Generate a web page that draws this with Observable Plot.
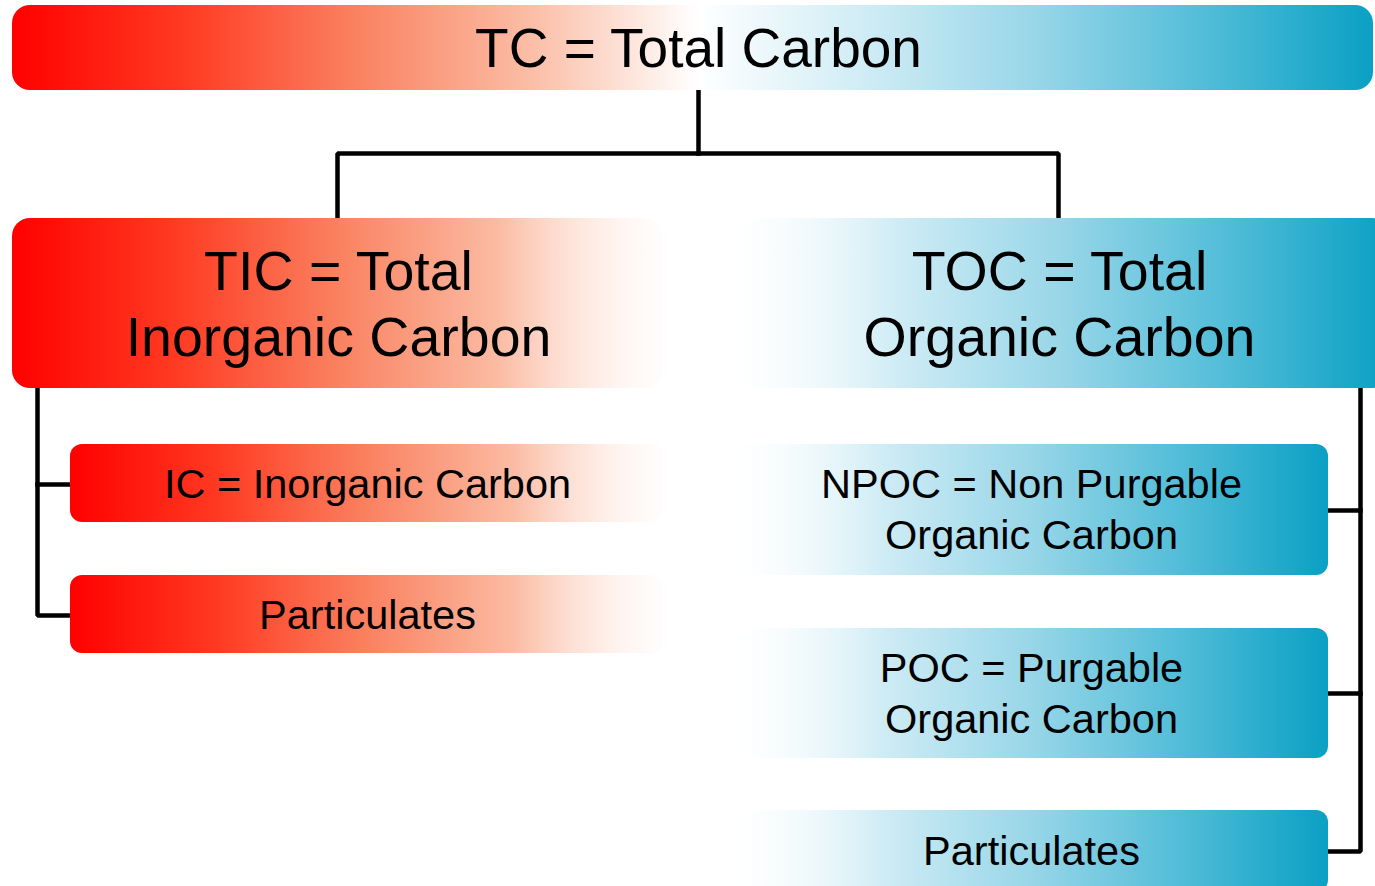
<!DOCTYPE html>
<html>
<head>
<meta charset="utf-8">
<script src="https://cdn.jsdelivr.net/npm/d3@7"></script>
<script src="https://cdn.jsdelivr.net/npm/@observablehq/plot@0.6"></script>
<style>
  html, body { margin: 0; padding: 0; background: #fff; overflow: hidden; }
  #chart svg { display: block; }
</style>
</head>
<body>
<div id="chart"></div>
<script>
// ---- Data: the carbon hierarchy ----
const nodeLabels = [
  "TC = Total Carbon",
  "TIC = Total\nInorganic Carbon",
  "TOC = Total\nOrganic Carbon",
  "IC = Inorganic Carbon",
  "Particulates",
  "NPOC = Non Purgable\nOrganic Carbon",
  "POC = Purgable\nOrganic Carbon",
  "Particulates"
];
const nodeParent = [null, 0, 0, 1, 1, 2, 2, 2];
const nodeFamily = ["total", "inorganic", "organic", "inorganic", "inorganic", "organic", "organic", "organic"];
const nodeLevel = [0, 1, 1, 2, 2, 2, 2, 2];

// ---- Layout (pixel space of the diagram) ----
const W = 1375, H = 886;
const boxX1 = [12, 12, 733, 70, 70, 735, 735, 735];
const boxX2 = [1373, 663, 1390, 663, 663, 1328, 1328, 1328];
const boxY1 = [5, 218, 218, 444, 575, 444, 628, 810];
const boxY2 = [90, 388, 388, 522, 653, 575, 758, 892];
const textX = [698, 338, 1059, 367, 367, 1031, 1031, 1031];
const textY = [45, 301, 301, 481, 612, 507, 691, 848];

const nodes = nodeLabels.map((label, i) => ({
  label, parent: nodeParent[i], family: nodeFamily[i], level: nodeLevel[i],
  x1: boxX1[i], x2: boxX2[i], y1: boxY1[i], y2: boxY2[i],
  tx: textX[i], ty: textY[i]
}));

// connectors (polylines)
const connectors = [
  [[698, 88], [698, 153]],
  [[337, 220], [337, 153], [1058, 153], [1058, 220]],
  [[37, 386], [37, 615], [72, 615]],
  [[37, 484], [72, 484]],
  [[1360, 386], [1360, 851], [1325, 851]],
  [[1325, 510], [1360, 510]],
  [[1325, 693], [1360, 693]]
];
const connectorData = connectors.flatMap((pts, k) => pts.map(([x, y]) => ({x, y, k})));

const fillFor = {
  total: "url(#gradTotal)",
  inorganic: "url(#gradRed)",
  organic: "url(#gradTeal)"
};

const redStops = [[0, "#ff0000"], [0.25, "#ff3a22"], [0.5, "#fa8160"], [0.75, "#fbbca4"], [1, "#fffaf7"]];
const tealStops = [[0, "#ffffff"], [0.25, "#cfecf5"], [0.5, "#98d6e8"], [0.75, "#52bdd8"], [1, "#0aa0c4"]];

function defsMark() {
  const defs = d3.create("svg:defs");
  const addGrad = (id, stops, opac) => {
    const g = defs.append("linearGradient").attr("id", id)
      .attr("x1", 0).attr("x2", 1).attr("y1", 0).attr("y2", 0);
    stops.forEach(([o, c], i) => g.append("stop").attr("offset", o).attr("stop-color", c)
      .attr("stop-opacity", opac ? opac[i] : 1));
  };
  addGrad("gradRed", redStops, [1, 1, 1, 1, 0.3]);
  addGrad("gradTeal", tealStops, [0.3, 1, 1, 1, 1]);
  const mid = (698 - 12) / (1373 - 12);
  addGrad("gradTotal", [
    ...redStops.slice(0, 4).map(([o, c]) => [o * mid, c]),
    [mid, "#ffffff"],
    ...tealStops.slice(1).map(([o, c]) => [mid + o * (1 - mid), c])
  ]);
  return defs.node();
}

const font = "'Liberation Sans', Arial, Helvetica, sans-serif";
const big = nodes.filter(d => d.level < 2);
const small = nodes.filter(d => d.level === 2);

const chart = Plot.plot({
  width: W,
  height: H,
  margin: 0,
  x: {domain: [0, W], range: [0, W], axis: null},
  y: {domain: [0, H], range: [0, H], axis: null},
  style: {background: "white", fontFamily: font},
  marks: [
    defsMark,
    Plot.line(connectorData, {x: "x", y: "y", z: "k", stroke: "#000", strokeWidth: 4.5,
      strokeLinejoin: "miter", strokeLinecap: "square"}),
    Plot.rect(big, {x1: "x1", x2: "x2", y1: "y1", y2: "y2", rx: 18,
      fill: d => fillFor[d.family], clip: true}),
    Plot.rect(small, {x1: "x1", x2: "x2", y1: "y1", y2: "y2", rx: 12,
      fill: d => fillFor[d.family], clip: true}),
    Plot.text(nodes.filter(d => d.level === 0), {x: "tx", y: "ty", text: "label",
      fontSize: 55, fontFamily: font, fill: "#000", lineHeight: 1.2}),
    Plot.text(nodes.filter(d => d.level === 1), {x: "tx", y: "ty", text: "label",
      fontSize: 55.5, fontFamily: font, fill: "#000", lineHeight: 1.19}),
    Plot.text(small, {x: "tx", y: "ty", text: "label",
      fontSize: 41.5, fontFamily: font, fill: "#000", lineHeight: 1.23})
  ]
});
document.getElementById("chart").appendChild(chart);
</script>
</body>
</html>
